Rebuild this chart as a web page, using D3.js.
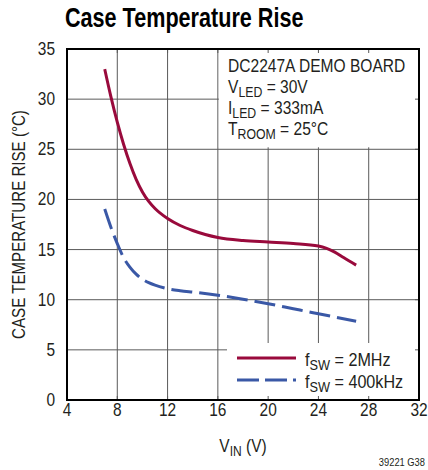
<!DOCTYPE html>
<html><head><meta charset="utf-8">
<script src="https://cdn.jsdelivr.net/npm/d3@7"></script>
<style>
html,body{margin:0;padding:0;background:#fff;}
svg text{font-family:"Liberation Sans Narrow","Arial Narrow","Liberation Sans",Arial,sans-serif;fill:#231f20;}
</style></head>
<body><svg id="c" width="428" height="470"></svg>
<script>
// Data
const xTicks = [4, 8, 12, 16, 20, 24, 28, 32];
const yTicks = [0, 5, 10, 15, 20, 25, 30, 35];
const vin2MHz = [7.0, 7.5, 8.0, 8.5, 9.0, 9.5, 10.0, 10.5, 11, 12, 13, 14, 15, 16, 18, 20, 22, 24, 24.6, 25.3, 26, 27];
const rise2MHz = [33.0, 30.2, 27.7, 25.5, 23.6, 22.0, 20.75, 19.8, 19.1, 18.1, 17.4, 16.9, 16.5, 16.2, 15.9, 15.75, 15.6, 15.35, 15.15, 14.75, 14.2, 13.45];
const vin400k = [7.0, 7.5, 8.0, 8.5, 9.0, 9.5, 10, 10.5, 11, 12, 13, 14.2, 16, 18, 20, 22, 24, 27];
const rise400k = [19.05, 17.2, 15.6, 14.2, 13.25, 12.55, 12.05, 11.7, 11.45, 11.1, 10.9, 10.74, 10.45, 10.05, 9.6, 9.1, 8.6, 7.85];
const seriesNames = ["2MHz", "400kHz"];

const svg = d3.select("#c");
const L = 67, R = 419, T = 49, B = 400;
const x = d3.scaleLinear().domain([4, 32]).range([L, R]);
const y = d3.scaleLinear().domain([0, 35]).range([B, T]);
const red = "#990a3c", blue = "#3a58a6", grid = "#5a5a5a";

// condensed text helper
function ctext(px, py, sx, size, anchor, rot) {
  const g = svg.append("g").attr("transform", `translate(${px},${py})` + (rot ? ` rotate(${rot})` : "") + ` scale(${sx},1)`);
  return g.append("text").attr("x", 0).attr("y", 0).attr("font-size", size).attr("text-anchor", anchor || "start");
}

// title
ctext(65, 27, 0.8, 27).attr("font-weight", "bold").style("fill", "#000").text("Case Temperature Rise");

// grid
const g = svg.append("g");
g.selectAll(".vg").data(xTicks.slice(1, -1)).join("line")
  .attr("x1", d => x(d)).attr("x2", d => x(d)).attr("y1", T).attr("y2", B)
  .attr("stroke", grid).attr("stroke-width", 1);
g.selectAll(".hg").data(yTicks.slice(1, -1)).join("line")
  .attr("y1", d => y(d)).attr("y2", d => y(d)).attr("x1", L).attr("x2", R)
  .attr("stroke", grid).attr("stroke-width", 1);

// white boxes (annotation & legend)
svg.append("rect").attr("x", x(16) + 1).attr("y", T).attr("width", R - x(16) - 1).attr("height", y(25) - T - 2).attr("fill", "#fff");
svg.append("rect").attr("x", 227).attr("y", 343).attr("width", R - 227).attr("height", B - 343).attr("fill", "#fff");

// inner ticks
svg.selectAll(".bt").data(xTicks.slice(1, -1)).join("line")
  .attr("x1", d => x(d)).attr("x2", d => x(d)).attr("y1", B).attr("y2", B - 4).attr("stroke", grid);
svg.selectAll(".tt").data(xTicks.slice(1, -1)).join("line")
  .attr("x1", d => x(d)).attr("x2", d => x(d)).attr("y1", T).attr("y2", T + 4).attr("stroke", grid);
svg.selectAll(".rt").data(yTicks.slice(1, -1)).join("line")
  .attr("y1", d => y(d)).attr("y2", d => y(d)).attr("x1", R).attr("x2", R - 4).attr("stroke", grid);

// curves
const line = d3.line().x(d => x(d[0])).y(d => y(d[1])).curve(d3.curveMonotoneX);
svg.append("path").datum(d3.zip(vin2MHz, rise2MHz)).attr("d", line)
  .attr("fill", "none").attr("stroke", red).attr("stroke-width", 3);
svg.append("path").datum(d3.zip(vin400k, rise400k)).attr("d", line)
  .attr("fill", "none").attr("stroke", blue).attr("stroke-width", 3).attr("stroke-dasharray", "21,7");

// frame
svg.append("rect").attr("x", L).attr("y", T).attr("width", R - L).attr("height", B - T)
  .attr("fill", "none").attr("stroke", "#000").attr("stroke-width", 2);

// axes labels
xTicks.forEach(d => ctext(x(d), 416, 0.86, 18, "middle").text(d));
yTicks.forEach(d => ctext(55, y(d) + 6, 0.86, 18, "end").text(d));

// x title
const xt = ctext(243, 452, 0.86, 18, "middle");
xt.append("tspan").text("V");
xt.append("tspan").attr("font-size", 14).attr("dy", 4).text("IN");
xt.append("tspan").attr("dy", -4).text(" (V)");

// y title
ctext(25, (T + B) / 2, 0.84, 18, "middle", -90).text("CASE TEMPERATURE RISE (°C)");

// annotation
const ax = 228;
ctext(ax, 72, 0.82, 19).text("DC2247A DEMO BOARD");
function sub(yy, main, s, rest) {
  const t = ctext(ax, yy, 0.82, 19);
  t.append("tspan").text(main);
  t.append("tspan").attr("font-size", 15).attr("dy", 4).text(s);
  t.append("tspan").attr("dy", -4).text(rest);
}
sub(93, "V", "LED", " = 30V");
sub(114, "I", "LED", " = 333mA");
sub(135, "T", "ROOM", " = 25°C");

// legend
const legY = [358, 380];
svg.append("line").attr("x1", 237).attr("x2", 296).attr("y1", legY[0]).attr("y2", legY[0]).attr("stroke", red).attr("stroke-width", 3);
svg.append("line").attr("x1", 237).attr("x2", 296).attr("y1", legY[1]).attr("y2", legY[1]).attr("stroke", blue).attr("stroke-width", 3).attr("stroke-dasharray", "22,6");
seriesNames.forEach((n, i) => {
  const t = ctext(305, legY[i] + 8, 0.85, 19);
  t.append("tspan").text("f");
  t.append("tspan").attr("font-size", 15).attr("dy", 4).text("SW");
  t.append("tspan").attr("dy", -4).text(" = " + n);
});

// footnote
ctext(425, 466, 0.85, 11, "end").text("39221 G38");
</script></body></html>
